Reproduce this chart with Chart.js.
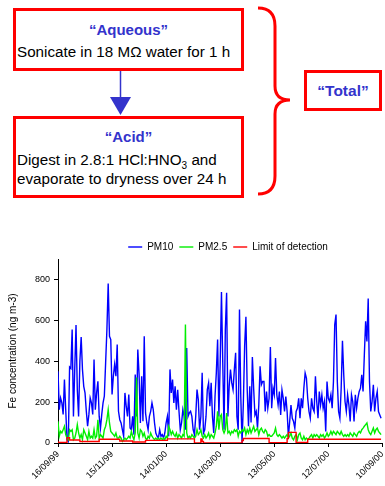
<!DOCTYPE html>
<html>
<head>
<meta charset="utf-8">
<script src="https://cdn.jsdelivr.net/npm/chart.js@4.4.1/dist/chart.umd.min.js"></script>
<style>
  html, body { margin: 0; padding: 0; background: #fff; width: 385px; height: 486px; overflow: hidden; position: relative;
    font-family: "Liberation Sans", Arial, sans-serif; }
  .box { position: absolute; border: 3px solid #ff0000; box-sizing: border-box; background: #fff; }
  .head { position: absolute; left: 0; right: 0; text-align: center; color: #3333cc; font-weight: bold;
    font-size: 15px; line-height: 15px; }
  .txt { position: absolute; left: 1px; font-size: 15.2px; line-height: 16px; color: #000; white-space: nowrap; }
  .txt sub { font-size: 10px; line-height: 0; }
  #chartWrap { position: absolute; left: 0; top: 228px; width: 392px; height: 258px; }
</style>
</head>
<body>
<svg width="385" height="228" style="position:absolute;left:0;top:0">
  <line x1="120.5" y1="71" x2="120.5" y2="98" stroke="#3333cc" stroke-width="1.5"/>
  <polygon points="110,97 131,97 120.5,115" fill="#3333cc"/>
  <path d="M258,8 Q275,8 275,26 L275,86 Q275,100 290,100 Q275,100 275,114 L275,176 Q275,194 258,194"
        fill="none" stroke="#ff0000" stroke-width="3"/>
</svg>

<div class="box" style="left:13px;top:8px;width:231px;height:63px">
  <div class="head" style="top:11px">“Aqueous”</div>
  <div class="txt" style="top:33px">Sonicate in 18 MΩ water for 1 h</div>
</div>

<div class="box" style="left:13px;top:116px;width:231px;height:82px">
  <div class="head" style="top:10px">“Acid”</div>
  <div class="txt" style="top:33px">Digest in 2.8:1 HCl:HNO<sub>3</sub> and</div>
  <div class="txt" style="top:52px">evaporate to dryness over 24 h</div>
</div>

<div class="box" style="left:304px;top:70px;width:78px;height:41px">
  <div class="head" style="top:10px;font-size:15.5px">“Total”</div>
</div>

<div id="chartWrap"><canvas id="myChart"></canvas></div>

<script>
// x axis: one point every 60/42 days, a labelled tick every 42 points
const tickLabels = ['16/09/99', '15/11/99', '14/01/00', '14/03/00', '13/05/00', '12/07/00', '10/09/00'];
const POINTS_PER_TICK = 42;
const yTicks = [0, 200, 400, 600, 800];

const pm10 = [
  351,163,220,196,140,310,163,16,8,372,
  365,555,130,360,577,260,130,400,518,360,
  277,245,155,82,140,220,196,140,408,163,
  245,302,130,73,140,196,229,392,555,780,
  522,506,237,327,384,327,482,155,114,98,
  65,33,245,180,130,237,73,65,130,41,
  335,130,457,335,98,327,106,522,147,98,
  65,130,155,196,163,98,49,33,24,65,
  33,41,24,49,98,130,33,360,245,310,
  196,277,163,260,155,65,98,163,130,65,
  465,130,147,155,130,65,
  41,130,261,212,65,130,343,49,65,130,
  261,294,180,294,130,49,229,343,506,130,
  392,738,392,65,555,735,130,278,359,294,
  261,359,441,130,65,653,229,0,196,474,
  617,261,82,278,100,420,
  268,137,154,72,186,375,285,301,301,154,
  252,170,219,470,170,268,236,416,236,186,
  252,137,260,219,154,227,154,31,105,186,
  121,105,72,154,170,219,121,219,170,268,
  342,317,219,154,121,219,170,154,326,203,
  121,252,186,236,170,203,56,301,219,203,
  236,170,301,579,628,301,154,121,268,500,
  334,203,154,236,186,105,236,203,105,236,
  170,219,252,268,334,252,432,595,497,707,
  301,154,203,285,154,219,252,154,137,121
];

const pm25 = [
  106,33,57,49,65,82,41,24,16,65,
  57,65,16,24,49,90,49,24,41,16,
  65,49,33,16,57,24,33,24,65,24,
  33,114,24,41,33,24,65,82,114,163,
  98,57,49,41,33,49,24,24,33,24,
  8,16,24,16,24,33,24,57,33,16,
  49,320,49,24,65,57,33,49,24,16,
  33,24,49,33,24,16,24,16,24,16,
  24,16,24,16,33,24,82,65,41,57,
  41,33,49,24,41,33,24,41,33,580,
  49,24,33,24,41,33,
  24,33,65,41,49,65,33,24,41,24,
  33,49,24,41,33,24,49,82,155,65,
  130,139,65,49,65,147,49,57,41,57,
  49,65,57,65,33,57,49,65,57,73,
  41,65,49,73,49,65,
  82,57,65,73,41,65,73,57,49,65,
  57,33,41,33,33,41,49,73,41,33,
  41,33,24,33,24,33,41,24,33,49,
  24,16,33,41,16,41,49,24,16,33,
  16,24,16,24,33,41,24,41,33,41,
  33,24,41,33,41,24,33,49,33,41,
  57,41,57,49,41,57,49,41,57,41,
  33,41,33,41,33,49,41,33,49,41,
  33,49,57,49,65,73,82,90,98,65,
  49,41,57,73,49,65,73,57,49,41
];

// limit of detection is a step line: point index where each level starts
const lodStart = [0, 6, 7, 9, 17, 32, 48, 58, 68, 85, 106, 111, 112, 113, 143, 144, 164, 178, 179, 185, 194, 243, 251];
const lodValue = [8, 3, 0, 26, 15, 7, 18, 10, 5, 13, 20, 0, 20, 7, 0, 12, 22, 2, 22, 52, 3, 18, 18];

const series = vals => vals.map((y, i) => ({x: i, y: y}));

Chart.defaults.font.family = '"Liberation Sans", Arial, sans-serif';
Chart.defaults.color = '#000';

// the legend in the picture sits right of centre
const shiftLegend = {
    id: 'shiftLegend',
    afterLayout: c => { c.legend.left += 36; c.legend.right += 36; }
};

let ctx = document.getElementById('myChart').getContext('2d');

let chart = new Chart(ctx, {
    type: 'line',
    data: {
        datasets: [{
            label: 'PM10',
            data: series(pm10),
            borderColor: '#0000ff',
            backgroundColor: '#0000ff',
            borderWidth: 1.4,
            order: 2
        }, {
            label: 'PM2.5',
            data: series(pm25),
            borderColor: '#00ee00',
            backgroundColor: '#00ee00',
            borderWidth: 1.4,
            order: 1
        }, {
            label: 'Limit of detection',
            data: lodStart.map((x, i) => ({x: x, y: lodValue[i]})),
            stepped: 'after',
            borderColor: '#ff0000',
            backgroundColor: '#ff0000',
            borderWidth: 1.4,
            order: 0
        }]
    },
    options: {
        animation: false,
        responsive: true,
        maintainAspectRatio: false,
        elements: { point: { radius: 0 }, line: { tension: 0 } },
        layout: { padding: { left: 0, right: 8, top: 8, bottom: 0 } },
        plugins: {
            legend: {
                position: 'top',
                maxHeight: 23,
                labels: {
                    usePointStyle: true,
                    pointStyle: 'line',
                    pointStyleWidth: 14,
                    boxHeight: 10,
                    padding: 6,
                    font: { size: 10 },
                    sort: (a, b) => a.datasetIndex - b.datasetIndex
                }
            },
            tooltip: { enabled: false }
        },
        scales: {
            x: {
                type: 'linear',
                min: 0,
                max: POINTS_PER_TICK * (tickLabels.length - 1),
                afterBuildTicks: s => { s.ticks = tickLabels.map((t, i) => ({value: i * POINTS_PER_TICK})); },
                afterFit: s => { s.height = 43; },
                ticks: {
                    callback: (v, i) => tickLabels[i],
                    autoSkip: false,
                    maxRotation: 45,
                    minRotation: 45,
                    padding: 2,
                    font: { size: 9 }
                },
                grid: { drawOnChartArea: false, drawTicks: true, tickLength: 4, color: '#000' },
                border: { color: '#000' }
            },
            y: {
                min: 0,
                max: 900,
                afterBuildTicks: s => { s.ticks = yTicks.map(v => ({value: v})); },
                afterFit: s => { s.width = 58; },
                ticks: { padding: 4, font: { size: 9 } },
                grid: { drawOnChartArea: false, drawTicks: true, tickLength: 4, color: '#000' },
                border: { color: '#000' },
                title: {
                    display: true,
                    text: 'Fe concentration (ng m-3)',
                    font: { size: 10 },
                    padding: { top: 7 }
                }
            }
        }
    },
    plugins: [shiftLegend]
});
</script>
</body>
</html>
